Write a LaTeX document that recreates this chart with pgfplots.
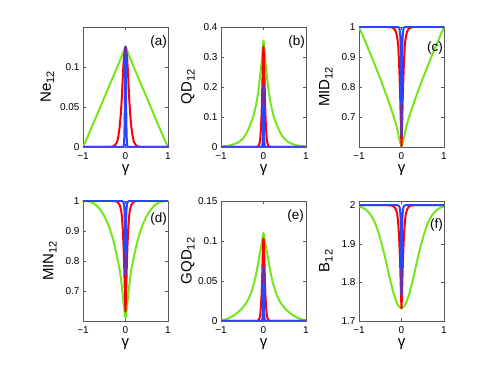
\documentclass[border=0pt]{standalone}
\usepackage{fontspec}
\setmainfont{Liberation Sans}
\usepackage{pgfplots}
\pgfplotsset{compat=1.18}

\definecolor{cg}{RGB}{115,230,30}
\definecolor{cr}{RGB}{255,0,0}
\definecolor{cb}{RGB}{40,70,255}
\definecolor{ax}{RGB}{90,90,90}
\newcommand{\sub}[1]{\raisebox{-0.4ex}{\fontsize{11}{11}\selectfont #1}}

\pgfplotsset{
  panel/.style={
    scale only axis, width=85pt, height=120pt,
    xmin=-1, xmax=1, xtick={-1,0,1}, xticklabels={−1,0,1},
    enlargelimits=false,
    tick align=inside, tick pos=both, major tick length=3pt,
    axis line style={ax, line width=0.5pt},
    every tick/.style={ax, line width=0.5pt},
    tick label style={font=\fontsize{10}{10}\selectfont},
    xticklabel style={yshift=-2pt},
    xlabel={γ},
    xlabel style={font=\fontsize{15}{15}\selectfont, yshift=2pt},
    ylabel style={font=\fontsize{15}{15}\selectfont,
      at={(axis description cs:-0.39,0.5)}, anchor=center},
    every axis plot/.append style={line width=2pt, no markers, line join=round, line cap=round},
  },
  grn/.style={cg, smooth, tension=0.35},
}
\tikzset{plab/.style={anchor=north east, inner sep=0pt, font=\fontsize{13.5}{13.5}\selectfont}}

\begin{document}
\begin{tikzpicture}
\path (0,0) rectangle (491pt,367pt);

% (a) Ne12
\begin{axis}[panel, at={(83pt,340pt)}, anchor=north west,
  ymin=0, ymax=0.1496, ytick={0,0.05,0.1}, yticklabels={0,0.05,0.1},
  ylabel={Ne\sub{12}}, ylabel style={at={(axis description cs:-0.42,0.5)}}]
\addplot[grn] coordinates {(-1,0) (-0.9,0.0115) (-0.8,0.024) (-0.7,0.0365) (-0.6,0.049) (-0.5,0.0615) (-0.4,0.074) (-0.3,0.0865) (-0.2,0.099) (-0.15,0.1055) (-0.1,0.1115) (-0.06,0.117) (-0.03,0.1215) (0,0.125)
 (0.03,0.1215) (0.06,0.117) (0.1,0.1115) (0.15,0.1055) (0.2,0.099) (0.3,0.0865) (0.4,0.074) (0.5,0.0615) (0.6,0.049) (0.7,0.0365) (0.8,0.024) (0.9,0.0115) (1,0)};
\addplot[cr] coordinates {(-1,0) (-0.4,0) (-0.3,0.0005) (-0.25,0.002) (-0.2,0.006) (-0.17,0.0125) (-0.14,0.024) (-0.11,0.041) (-0.085,0.0625) (-0.06,0.091) (-0.04,0.110) (-0.02,0.120) (0,0.125)
 (0.02,0.120) (0.04,0.110) (0.06,0.091) (0.085,0.0625) (0.11,0.041) (0.14,0.024) (0.17,0.0125) (0.2,0.006) (0.25,0.002) (0.3,0.0005) (0.4,0) (1,0)};
\addplot[cb] coordinates {(-1,0) (-0.065,0) (-0.049,0.0005) (-0.041,0.002) (-0.033,0.006) (-0.028,0.0125) (-0.023,0.024) (-0.018,0.041) (-0.0137,0.0625) (-0.01,0.091) (-0.0065,0.110) (-0.0033,0.120) (0,0.125)
 (0.0033,0.120) (0.0065,0.110) (0.01,0.091) (0.0137,0.0625) (0.018,0.041) (0.023,0.024) (0.028,0.0125) (0.033,0.006) (0.041,0.002) (0.049,0.0005) (0.065,0) (1,0)};
\node[plab] at (rel axis cs:0.99,0.933) {(a)};
\end{axis}

% (b) QD12
\begin{axis}[panel, at={(221pt,340pt)}, anchor=north west,
  ymin=0, ymax=0.4, ytick={0,0.1,0.2,0.3,0.4}, yticklabels={0,0.1,0.2,0.3,0.4},
  ylabel={QD\sub{12}}]
\addplot[grn] coordinates {(-1,0.002) (-0.9,0.003) (-0.8,0.005) (-0.7,0.009) (-0.6,0.015) (-0.5,0.026) (-0.4,0.046) (-0.31,0.074) (-0.25,0.098) (-0.2,0.125) (-0.16,0.152) (-0.12,0.186) (-0.09,0.225) (-0.06,0.262) (-0.04,0.29) (-0.02,0.325) (0,0.355)
 (0.02,0.325) (0.04,0.29) (0.06,0.262) (0.09,0.225) (0.12,0.186) (0.16,0.152) (0.2,0.125) (0.25,0.098) (0.31,0.074) (0.4,0.046) (0.5,0.026) (0.6,0.015) (0.7,0.009) (0.8,0.005) (0.9,0.003) (1,0.002)};
\addplot[cr] coordinates {(-1,0) (-0.2,0) (-0.14,0.001) (-0.11,0.005) (-0.09,0.014) (-0.075,0.03) (-0.06,0.06) (-0.045,0.11) (-0.035,0.16) (-0.025,0.22) (-0.016,0.28) (-0.008,0.32) (0,0.335)
 (0.008,0.32) (0.016,0.28) (0.025,0.22) (0.035,0.16) (0.045,0.11) (0.06,0.06) (0.075,0.03) (0.09,0.014) (0.11,0.005) (0.14,0.001) (0.2,0) (1,0)};
\addplot[cb] coordinates {(-1,0) (-0.05,0) (-0.035,0.002) (-0.028,0.006) (-0.022,0.014) (-0.017,0.03) (-0.013,0.055) (-0.01,0.085) (-0.007,0.12) (-0.004,0.165) (-0.002,0.19) (0,0.205)
 (0.002,0.19) (0.004,0.165) (0.007,0.12) (0.01,0.085) (0.013,0.055) (0.017,0.03) (0.022,0.014) (0.028,0.006) (0.035,0.002) (0.05,0) (1,0)};
\node[plab] at (rel axis cs:0.99,0.925) {(b)};
\end{axis}

% (c) MID12
\begin{axis}[panel, at={(359pt,340pt)}, anchor=north west,
  ymin=0.6, ymax=1, ytick={0.7,0.8,0.9,1}, yticklabels={0.7,0.8,0.9,1},
  ylabel={MID\sub{12}}]
\addplot[grn] coordinates {(-1,1.0) (-0.9,0.967) (-0.8,0.934) (-0.7,0.899) (-0.6,0.864) (-0.5,0.828) (-0.4,0.79) (-0.32,0.759) (-0.25,0.73) (-0.18,0.7) (-0.12,0.672) (-0.08,0.646) (-0.04,0.619) (0,0.603)
 (0.04,0.619) (0.08,0.646) (0.12,0.672) (0.18,0.7) (0.25,0.73) (0.32,0.759) (0.4,0.79) (0.5,0.828) (0.6,0.864) (0.7,0.899) (0.8,0.934) (0.9,0.967) (1,1.0)};
\addplot[cr] coordinates {(-1,1) (-0.3,1) (-0.22,0.998) (-0.17,0.994) (-0.13,0.984) (-0.1,0.964) (-0.08,0.945) (-0.06,0.889) (-0.045,0.833) (-0.03,0.762) (-0.02,0.702) (-0.01,0.643) (0,0.603)
 (0.01,0.643) (0.02,0.702) (0.03,0.762) (0.045,0.833) (0.06,0.889) (0.08,0.945) (0.1,0.964) (0.13,0.984) (0.17,0.994) (0.22,0.998) (0.3,1) (1,1)};
\addplot[cb] coordinates {(-1,1) (-0.09,1) (-0.068,0.999) (-0.05,0.995) (-0.037,0.985) (-0.027,0.967) (-0.02,0.941) (-0.015,0.898) (-0.011,0.846) (-0.0075,0.78) (-0.005,0.725) (-0.0025,0.671) (0,0.634)
 (0.0025,0.671) (0.005,0.725) (0.0075,0.78) (0.011,0.846) (0.015,0.898) (0.02,0.941) (0.027,0.967) (0.037,0.985) (0.05,0.995) (0.068,0.999) (0.09,1) (1,1)};
\node[plab] at (rel axis cs:0.99,0.875) {(c)};
\end{axis}

% (d) MIN12
\begin{axis}[panel, at={(83pt,166pt)}, anchor=north west,
  ymin=0.6, ymax=1, ytick={0.7,0.8,0.9,1}, yticklabels={0.7,0.8,0.9,1},
  ylabel={MIN\sub{12}}]
\addplot[grn] coordinates {(-1,1) (-0.9,0.999) (-0.8,0.996) (-0.7,0.987) (-0.6,0.972) (-0.5,0.95) (-0.4,0.92) (-0.33,0.89) (-0.27,0.86) (-0.21,0.822) (-0.17,0.795) (-0.13,0.765) (-0.09,0.72) (-0.06,0.68) (-0.03,0.64) (0,0.611)
 (0.03,0.64) (0.06,0.68) (0.09,0.72) (0.13,0.765) (0.17,0.795) (0.21,0.822) (0.27,0.86) (0.33,0.89) (0.4,0.92) (0.5,0.95) (0.6,0.972) (0.7,0.987) (0.8,0.996) (0.9,0.999) (1,1)};
\addplot[cr] coordinates {(-1,1) (-0.3,1) (-0.22,0.999) (-0.17,0.994) (-0.13,0.985) (-0.1,0.967) (-0.08,0.941) (-0.06,0.897) (-0.045,0.845) (-0.03,0.779) (-0.02,0.724) (-0.01,0.669) (0,0.632)
 (0.01,0.669) (0.02,0.724) (0.03,0.779) (0.045,0.845) (0.06,0.897) (0.08,0.941) (0.1,0.967) (0.13,0.985) (0.17,0.994) (0.22,0.999) (0.3,1) (1,1)};
\addplot[cb] coordinates {(-1,1) (-0.09,1) (-0.068,0.999) (-0.05,0.996) (-0.037,0.99) (-0.027,0.978) (-0.02,0.961) (-0.015,0.931) (-0.011,0.897) (-0.0075,0.852) (-0.005,0.815) (-0.0025,0.779) (0,0.754)
 (0.0025,0.779) (0.005,0.815) (0.0075,0.852) (0.011,0.897) (0.015,0.931) (0.02,0.961) (0.027,0.978) (0.037,0.99) (0.05,0.996) (0.068,0.999) (0.09,1) (1,1)};
\node[plab] at (rel axis cs:0.99,0.908) {(d)};
\end{axis}

% (e) GQD12
\begin{axis}[panel, at={(221pt,166pt)}, anchor=north west,
  ymin=0, ymax=0.15, ytick={0,0.05,0.1,0.15}, yticklabels={0,0.05,0.1,0.15},
  ylabel={GQD\sub{12}}]
\addplot[grn] coordinates {(-1,0.001) (-0.9,0.002) (-0.8,0.004) (-0.7,0.007) (-0.6,0.011) (-0.5,0.016) (-0.4,0.023) (-0.3,0.034) (-0.21,0.05) (-0.15,0.065) (-0.1,0.08) (-0.07,0.089) (-0.04,0.098) (-0.02,0.105) (0,0.11)
 (0.02,0.105) (0.04,0.098) (0.07,0.089) (0.1,0.08) (0.15,0.065) (0.21,0.05) (0.3,0.034) (0.4,0.023) (0.5,0.016) (0.6,0.011) (0.7,0.007) (0.8,0.004) (0.9,0.002) (1,0.001)};
\addplot[cr] coordinates {(-1,0) (-0.2,0) (-0.14,0.0003) (-0.11,0.0015) (-0.09,0.004) (-0.075,0.009) (-0.06,0.018) (-0.045,0.034) (-0.035,0.049) (-0.025,0.068) (-0.016,0.086) (-0.008,0.098) (0,0.103)
 (0.008,0.098) (0.016,0.086) (0.025,0.068) (0.035,0.049) (0.045,0.034) (0.06,0.018) (0.075,0.009) (0.09,0.004) (0.11,0.0015) (0.14,0.0003) (0.2,0) (1,0)};
\addplot[cb] coordinates {(-1,0) (-0.05,0) (-0.035,0.0007) (-0.028,0.002) (-0.022,0.0046) (-0.017,0.010) (-0.013,0.018) (-0.01,0.028) (-0.007,0.040) (-0.004,0.055) (-0.002,0.063) (0,0.068)
 (0.002,0.063) (0.004,0.055) (0.007,0.040) (0.01,0.028) (0.013,0.018) (0.017,0.010) (0.022,0.0046) (0.028,0.002) (0.035,0.0007) (0.05,0) (1,0)};
\node[plab] at (rel axis cs:0.976,0.925) {(e)};
\end{axis}

% (f) B12
\begin{axis}[panel, at={(359pt,166pt)}, anchor=north west,
  ymin=1.7, ymax=2.011, ytick={1.7,1.8,1.9,2}, yticklabels={1.7,1.8,1.9,2},
  ylabel={B\sub{12}}]
\addplot[grn] coordinates {(-1,1.997) (-0.9,1.993) (-0.8,1.985) (-0.72,1.974) (-0.63,1.956) (-0.55,1.932) (-0.47,1.902) (-0.4,1.871) (-0.35,1.847) (-0.3,1.822) (-0.25,1.799) (-0.2,1.777) (-0.16,1.763) (-0.12,1.75) (-0.08,1.741) (-0.04,1.736) (0,1.733)
 (0.04,1.736) (0.08,1.741) (0.12,1.75) (0.16,1.763) (0.2,1.777) (0.25,1.799) (0.3,1.822) (0.35,1.847) (0.4,1.871) (0.47,1.902) (0.55,1.932) (0.63,1.956) (0.72,1.974) (0.8,1.985) (0.9,1.993) (1,1.997)};
\addplot[cr] coordinates {(-1,2) (-0.3,2) (-0.22,1.999) (-0.17,1.996) (-0.13,1.989) (-0.1,1.976) (-0.08,1.957) (-0.06,1.925) (-0.045,1.888) (-0.03,1.84) (-0.02,1.8) (-0.01,1.76) (0,1.733)
 (0.01,1.76) (0.02,1.8) (0.03,1.84) (0.045,1.888) (0.06,1.925) (0.08,1.957) (0.1,1.976) (0.13,1.989) (0.17,1.996) (0.22,1.999) (0.3,2) (1,2)};
\addplot[cb] coordinates {(-1,2) (-0.09,2) (-0.068,1.999) (-0.05,1.996) (-0.037,1.991) (-0.027,1.979) (-0.02,1.962) (-0.015,1.934) (-0.011,1.901) (-0.0075,1.859) (-0.005,1.824) (-0.0025,1.789) (0,1.765)
 (0.0025,1.789) (0.005,1.824) (0.0075,1.859) (0.011,1.901) (0.015,1.934) (0.02,1.962) (0.027,1.979) (0.037,1.991) (0.05,1.996) (0.068,1.999) (0.09,2) (1,2)};
\node[plab] at (rel axis cs:0.99,0.858) {(f)};
\end{axis}
\end{tikzpicture}
\end{document}
